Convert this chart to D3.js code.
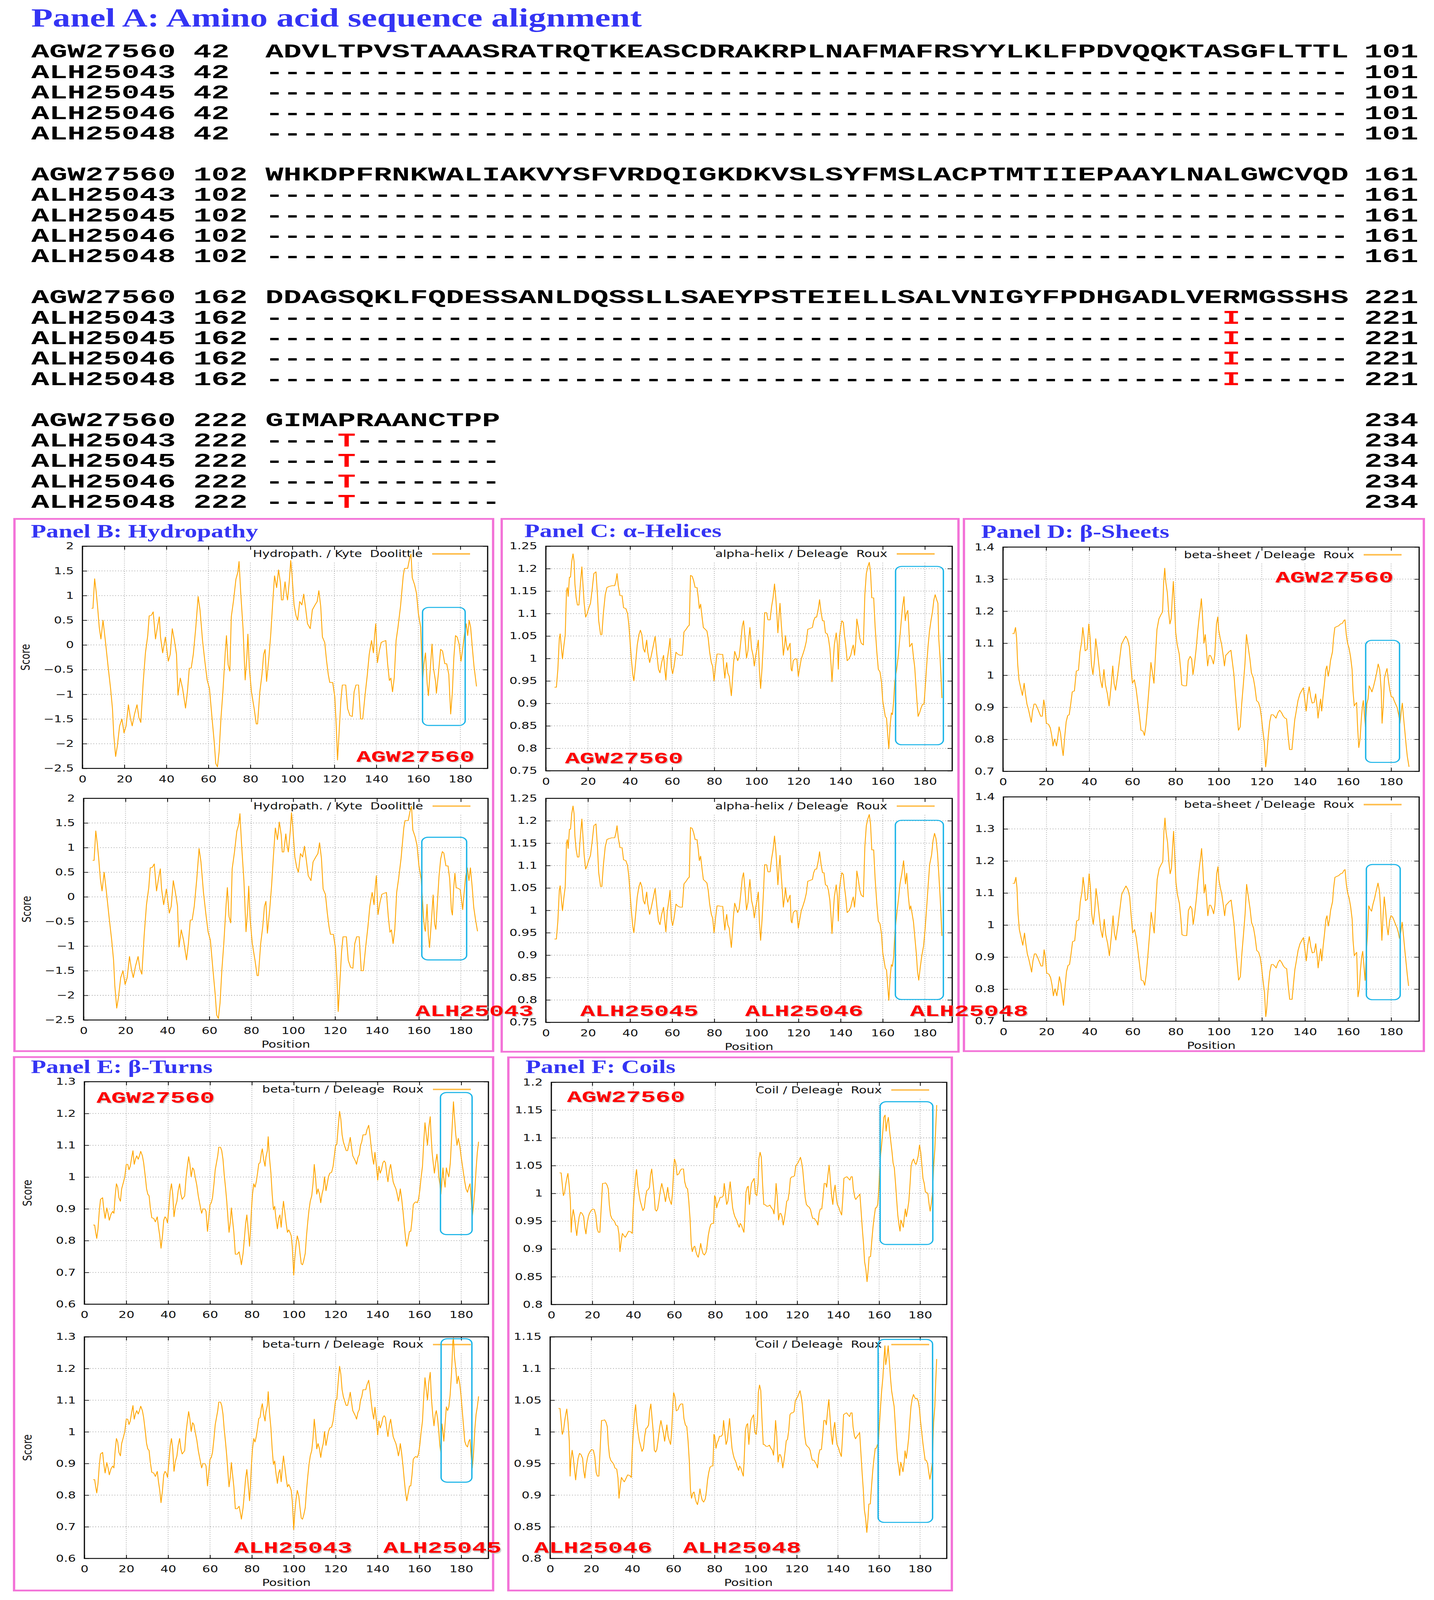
<!DOCTYPE html>
<html><head><meta charset="utf-8">
<script src="https://cdn.jsdelivr.net/npm/d3@7"></script>
<style>html,body{margin:0;padding:0;background:#fff;overflow:hidden}svg{display:block;width:100vw;height:100vh}</style>
</head><body>
<svg id="fig" viewBox="0 0 3670 5393" preserveAspectRatio="none"></svg>
<script>
// ---------------- DATA ----------------
const seqIds = ["AGW27560","ALH25043","ALH25045","ALH25046","ALH25048"];
const blockStarts = [42,102,162,222];
const blockEnds = [101,161,221,234];
const refSeq = [
 "ADVLTPVSTAAASRATRQTKEASCDRAKRPLNAFMAFRSYYLKLFPDVQQKTASGFLTTL",
 "WHKDPFRNKWALIAKVYSFVRDQIGKDKVSLSYFMSLACPTMTIIEPAAYLNALGWCVQD",
 "DDAGSQKLFQDESSANLDQSSLLSAEYPSTEIELLSALVNIGYFPDHGADLVERMGSSHS",
 "GIMAPRAANCTPP"];
const variantSeq = [
 "------------------------------------------------------------",
 "------------------------------------------------------------",
 "-----------------------------------------------------I------",
 "----T--------"];
const panelTitles = ["Panel B: Hydropathy","Panel C: \u03b1-Helices","Panel D: \u03b2-Sheets","Panel E: \u03b2-Turns","Panel F: Coils"];
const legendTexts = ["Hydropath. / Kyte  Doolittle","alpha-helix / Deleage  Roux","beta-sheet / Deleage  Roux","beta-turn / Deleage  Roux","Coil / Deleage  Roux"];
const xTicks = [0,20,40,60,80,100,120,140,160,180];
const hydroTicks = [-2.5,-2,-1.5,-1,-0.5,0,0.5,1,1.5,2];
const helixTicks = [0.75,0.8,0.85,0.9,0.95,1,1.05,1.1,1.15,1.2,1.25];
const sheetTicks = [0.7,0.8,0.9,1,1.1,1.2,1.3,1.4];
const turnTicks = [0.6,0.7,0.8,0.9,1,1.1,1.2,1.3];
const coilTicksTop = [0.8,0.85,0.9,0.95,1,1.05,1.1,1.15,1.2];
const coilTicksBottom = [0.8,0.85,0.9,0.95,1,1.05,1.1,1.15];

const hydroCommon = [[4.3,0.74],[5,0.74],[5.8,1.34],[6.5,1.09],[7.2,0.78],[8,0.36],[8.8,0.12],[9.8,0.5],[10.9,0.09],[12.2,-0.43],[13.4,-0.88],[14.3,-1.29],[14.9,-1.81],[15.8,-2.26],[16.6,-2.05],[17.7,-1.64],[18.8,-1.5],[19.8,-1.78],[20.8,-1.64],[21.9,-1.21],[22.8,-1.47],[23.7,-1.64],[24.8,-1.4],[26,-1.21],[26.9,-1.47],[27.8,-1.57],[28.9,-0.78],[30,-0.16],[31.1,0.19],[31.8,0.59],[32.8,0.6],[33.7,0.67],[34.8,0.12],[35.7,0.36],[36.6,0.57],[37.2,0.16],[38.2,-0.16],[39.5,0.16],[40.2,-0.09],[40.9,-0.33],[41.8,-0.19],[42.8,0.33],[43.8,0.09],[44.8,-0.19],[45.5,-1.02],[46.6,-0.67],[47.7,-0.88],[49.1,-1.28],[50,-0.95],[50.9,-0.47],[51.8,-0.47],[52.8,-0.19],[54,0.36],[55.1,0.98],[56,0.71],[57.2,0.09],[58.3,-0.33],[59.4,-0.71],[60.5,-0.88],[61.7,-1.47],[62.8,-1.98],[63.5,-2.4],[64.3,-2.47],[65.1,-2.16],[66,-1.47],[66.9,-0.95],[68,-0.16],[68.6,0.19],[69.4,-0.4],[70.2,-0.53],[70.9,0.57],[72,0.91],[73.1,1.33],[74,1.47],[74.6,1.69],[75.4,1.05],[76.5,0.33],[77.5,-0.71],[78.3,-0.26],[78.8,0.22],[79.5,-0.47],[80.5,-0.95],[81.8,-1.29],[82.8,-1.6],[83.4,-1.6],[84.5,-0.95],[85.5,-0.6],[86.3,-0.19],[87,-0.09],[87.7,-0.74],[88.8,-0.26],[89.7,0.22],[90.6,0.84],[91.5,1.4],[92.5,1.16],[93.4,1.52],[94.3,1.26],[94.8,0.91],[95.5,0.91],[96.5,1.28],[97.1,1.05],[97.7,0.91],[98.6,1.33],[99.2,1.71],[99.8,1.43],[100.8,0.81],[101.7,0.6],[102.5,0.5],[103.5,0.88],[104.5,0.81],[105.4,1.03],[106.3,0.74],[107.2,0.43],[108.5,0.33],[109.5,0.71],[110.8,0.81],[111.8,0.88],[112.6,1.1],[113.5,0.78],[114.3,0.16],[115.4,0.05],[116.3,-0.33],[117.1,-0.6],[117.8,-0.76],[119.2,-0.76],[120.2,-1.05],[120.9,-1.64],[121.5,-2.33],[122.2,-1.81],[123.1,-1.12],[123.8,-0.81],[125.4,-0.81],[126.3,-1.29],[127.4,-1.43],[128.5,-1.45],[129.4,-0.95],[130.3,-0.81],[131.5,-0.81],[132.5,-1.5],[133.5,-1.5],[134.6,-1.02],[135.7,-0.6],[136.6,-0.19],[137.7,0.09],[138.6,-0.16],[139.2,0.22],[139.7,0.43],[140.5,-0.36],[141.4,-0.12],[142.3,0.05],[143.2,0.07],[144.5,0.09],[145.4,-0.4],[146.2,-0.72],[146.9,-0.67],[147.7,-0.95],[148.5,-0.67],[149.4,0.09],[150.3,0.36],[151.5,0.78],[152.8,1.4],[153.4,1.55],[154.9,1.55],[155.8,1.74],[156.5,1.84],[157.1,1.36],[158.2,1.22],[159.1,1.05],[160,0.64],[161.1,0.36]];
const hydroTopTail = [[162,-0.74],[162.6,-0.4],[163.4,-0.16],[164.2,-0.78],[164.8,-1.03],[165.5,-0.6],[166.5,0.02],[167.2,-0.47],[168.2,-0.74],[168.6,-0.98],[169.5,-0.6],[170.6,-0.09],[171.5,-0.12],[172.6,-0.38],[173.5,-0.38],[174.5,-0.6],[175.4,-1.4],[176.2,-0.95],[176.9,-0.26],[177.7,0.19],[178.5,0.16],[179.4,0.02],[180.3,-0.33],[181.2,-0.05],[182,0.22],[182.8,0.43],[183.5,0.19],[184.2,0.5],[184.9,0.36],[185.7,-0.05],[186.5,-0.43],[187.7,-0.84]];
const hydroBottomTail = [[161.4,0.15],[162.2,-0.41],[162.7,-0.63],[163.1,-0.7],[163.9,-0.15],[164.5,-0.77],[165.1,-1.03],[166.1,-0.41],[166.8,0.04],[167.5,-0.55],[168.1,-0.66],[168.7,-0.22],[169.6,0.41],[170.4,0.77],[171.2,0.92],[171.9,0.89],[172.9,0.63],[173.9,0.63],[174.7,0.37],[175.5,-0.26],[176,-0.37],[176.6,0.18],[177.2,0.48],[177.8,0.18],[178.4,0.18],[179.7,0.15],[180.5,-0.11],[180.9,-0.26],[181.5,0.04],[182.3,0.41],[183.1,0.59],[183.9,0.33],[184.6,0.59],[185.4,0.22],[186.2,-0.22],[187.1,-0.48],[188,-0.7]];

const helixCommon = [[4.1,0.936],[5,0.936],[5.7,0.976],[6.4,1.045],[6.8,1.055],[7.4,1.022],[7.9,0.999],[8.5,1.026],[9.2,1.053],[9.8,1.15],[10.2,1.158],[10.6,1.138],[11.2,1.181],[11.7,1.181],[12.3,1.216],[12.9,1.233],[13.4,1.216],[13.8,1.166],[14.4,1.135],[15,1.119],[15.7,1.119],[16.4,1.166],[17.1,1.204],[17.6,1.166],[18.2,1.123],[18.9,1.092],[19.6,1.1],[20.3,1.111],[21.2,1.123],[22,1.154],[22.8,1.189],[23.8,1.193],[24.5,1.142],[25.1,1.084],[26,1.053],[26.6,1.053],[27.3,1.1],[28.2,1.142],[29,1.158],[29.9,1.16],[31.3,1.162],[32.7,1.162],[33.3,1.173],[33.8,1.189],[34.4,1.162],[35.2,1.14],[36.2,1.14],[36.9,1.113],[38,1.111],[38.8,1.1],[39.4,1.076],[40,1.038],[40.6,0.999],[41.3,0.964],[41.8,0.95],[42.5,0.983],[43.4,1.03],[44.2,1.053],[44.9,1.063],[45.6,1.053],[46.3,1.022],[47,1.014],[47.9,1.041],[48.4,1.014],[49.3,0.991],[50.1,1.007],[51.1,1.03],[51.9,1.049],[52.7,1.01],[53.5,0.976],[54.2,0.968],[55,0.991],[55.9,1.007],[56.4,0.98],[57,0.952],[57.7,0.999],[58.4,1.022],[59,1.045],[59.6,0.98],[60.2,0.966],[60.9,0.983],[61.8,1.014],[62.8,1.009],[63.9,1.007],[64.8,1.007],[65.6,1.059],[66.6,1.065],[67.6,1.072],[68.1,1.074],[68.7,1.185],[69.5,1.183],[70.2,1.173],[70.9,1.158],[71.8,1.158],[72.4,1.135],[72.9,1.111],[73.5,1.121],[74.2,1.092],[74.8,1.069],[75.7,1.065],[76.5,1.061],[77.1,1.045],[77.8,1.014],[78.6,0.991],[79.2,0.983],[79.9,0.95],[80.6,0.983],[81.3,1.01],[82.2,1.01],[83,1.009],[84,1.009],[84.6,0.976],[85,0.956],[85.4,0.976],[85.9,0.991],[86.4,0.968],[87.1,0.96],[87.6,0.937],[88.1,0.917],[88.5,0.944],[89.1,0.987],[89.7,1.016],[90.3,1.007],[91.1,0.995],[91.8,1.003],[92.6,1.038],[93.3,1.072],[93.9,1.084],[94.6,1.045],[95.3,1.001],[96,1.018],[96.5,1.049],[96.9,1.069],[97.7,1.022],[98.4,1.007],[99,0.983],[99.7,1.007],[100.3,1.022],[100.9,1.041],[101.4,0.976],[102,0.933],[102.7,0.98],[103.4,1.045],[103.9,1.102],[104.8,1.102],[105.5,1.086],[106.5,1.086],[107.2,1.115],[107.9,1.135],[108.6,1.166],[109.2,1.135],[109.7,1.1],[110.2,1.057],[110.7,1.092],[111.2,1.123],[111.7,1.084],[112.3,1.045],[112.8,1.007],[113.4,1.03],[113.8,1.051],[114.3,1.03],[114.9,1.018],[115.5,1.028],[116,1.034],[116.5,0.976],[116.9,0.972],[117.5,0.995],[118.3,0.999],[119.2,0.999],[119.9,0.96],[120.6,0.98],[121.3,0.999],[122.1,1.01],[122.9,1.022],[123.7,1.038],[124.4,1.065],[125.5,1.067],[126.6,1.069],[127.2,1.084],[127.9,1.092],[128.6,1.092],[129.4,1.111],[130,1.131],[130.7,1.103],[131.4,1.084],[132.1,1.084],[132.8,1.057],[133.6,1.055],[134.2,1.045],[134.9,1.022],[135.5,0.983],[135.9,0.948],[136.5,0.995],[137,1.03],[137.9,1.057],[138.5,1.03],[138.9,0.976],[139.4,1.045],[140,1.069],[140.6,1.084],[141.3,1.08],[141.8,1.053],[142.4,1.03],[143.1,0.995],[143.9,0.999],[144.8,1.007],[145.5,1.022],[146,1.03],[146.6,1.007],[147.2,1.038],[147.7,1.088],[148.4,1.069],[149.1,1.045],[149.8,1.034],[150.8,1.03],[151.5,1.142],[152.2,1.189],[152.9,1.204],[153.6,1.214],[154.2,1.193],[154.8,1.135],[155.7,1.135],[156.4,1.069],[157.2,1.014],[157.9,0.976],[158.7,0.97],[159.4,0.948],[160,0.906],[160.7,0.886],[161.2,0.871],[161.8,0.867],[162.4,0.828],[162.9,0.799],[163.5,0.851],[164.1,0.879],[164.6,0.875]];
const helixTopTail = [[165.2,0.906],[165.7,0.948],[166.6,0.976],[167.4,1.007],[168.1,1.045],[168.8,1.084],[169.4,1.115],[170.1,1.138],[170.7,1.084],[171.2,1.1],[171.9,1.107],[172.3,1.076],[172.8,1.026],[173.3,1.03],[173.9,1.034],[174.5,1.007],[175.2,0.98],[175.7,0.944],[176.3,0.902],[176.8,0.871],[177.5,0.879],[178.2,0.89],[178.9,0.898],[179.6,0.898],[180.2,0.937],[180.8,0.98],[181.5,1.026],[182.2,1.061],[182.9,1.084],[183.6,1.103],[184.3,1.131],[184.9,1.142],[185.6,1.131],[186.2,1.123],[186.6,1.045],[187.2,1.003],[187.6,0.968],[188.1,0.912]];
const helixBottomTail = [[165.2,0.897],[165.8,0.953],[166.7,0.994],[167.5,1.026],[168.2,1.059],[169.1,1.083],[169.9,1.111],[170.8,1.059],[171.4,1.083],[172.1,1.034],[172.8,1.002],[173.3,1.01],[173.9,0.994],[174.6,0.974],[175.3,0.937],[176,0.901],[176.5,0.864],[177.1,0.844],[177.8,0.872],[178.5,0.897],[179.4,0.921],[180.1,0.957],[180.8,1.002],[181.5,1.051],[182.3,1.103],[183.2,1.124],[183.9,1.156],[184.6,1.172],[185.3,1.16],[186,1.128],[186.6,1.083],[187.2,1.034],[187.6,0.998],[188.1,0.943]];

const sheetCommon = [[4.3,1.13],[5.1,1.13],[5.8,1.149],[6.3,1.116],[6.8,1.035],[7.4,0.986],[8.1,0.964],[9,0.937],[9.8,0.975],[10.4,0.942],[11.1,0.91],[11.8,0.893],[12.5,0.872],[13.1,0.853],[13.7,0.888],[14.4,0.91],[15.1,0.91],[15.9,0.899],[16.8,0.883],[17.5,0.872],[18.2,0.872],[18.9,0.923],[19.5,0.899],[20.1,0.85],[21.1,0.847],[21.9,0.836],[22.6,0.812],[23.2,0.779],[23.9,0.801],[24.8,0.779],[25.5,0.812],[26,0.839],[26.7,0.817],[27.5,0.768],[27.9,0.749],[28.6,0.807],[29.3,0.855],[30,0.874],[30.7,0.877],[31.4,0.91],[32.1,0.948],[33.1,0.951],[34,1.013],[35,1.016],[35.7,1.073],[36.5,1.105],[37,1.149],[37.6,1.116],[38.1,1.076],[39,1.081],[39.8,1.16],[40.4,1.116],[41,1.035],[41.7,1.002],[42.4,1.046],[43,1.114],[43.8,1.073],[44.5,1.029],[45.2,0.986],[46,0.961],[46.8,1.018],[47.5,0.97],[48.4,0.942],[49.2,0.904],[50.1,0.964],[50.9,1.029],[51.5,0.975],[52.2,0.953],[53.1,0.997],[54.1,1.051],[54.9,1.095],[56,1.111],[56.9,1.122],[57.8,1.111],[58.6,1.089],[59.3,1.029],[60,0.975],[60.9,0.986],[61.7,0.959],[62.4,0.921],[63.2,0.877],[64,0.828],[64.9,0.826],[65.6,0.812],[66.3,0.845],[67,0.899],[67.9,0.975],[68.6,1.04],[69.3,1.008],[70,0.975],[70.7,1.062],[71.4,1.143],[72.3,1.176],[73.1,1.187],[74,1.198],[74.5,1.29],[75,1.334],[75.5,1.29],[76.2,1.258],[76.8,1.198],[77.4,1.16],[78,1.176],[78.5,1.241],[79,1.293],[79.4,1.236],[80.1,1.133],[80.8,1.095],[81.7,1.067],[82.4,1.018],[82.9,0.97],[83.9,0.967],[85.1,0.967],[85.9,1.046],[86.8,1.059],[87.5,1.051],[88.1,1.002],[88.8,1.035],[89.6,1.084],[90.3,1.138],[91,1.182],[91.6,1.214],[92,1.239],[92.6,1.176],[93.2,1.1],[93.8,1.127],[94.3,1.084],[94.9,1.029],[95.6,1.062],[96.2,1.062],[96.9,1.051],[97.6,1.035],[98.2,1.062],[99,1.16],[99.6,1.182],[100,1.143],[100.7,1.116],[101.4,1.095],[102.1,1.062],[102.7,1.029],[103.3,1.062],[104,1.067],[104.8,1.073],[105.7,1.078],[106.4,1.04],[107.1,1.002],[107.8,0.937],[108.5,0.883],[109.2,0.828],[110,0.839],[110.7,0.91],[111.5,0.975],[112.2,1.035],[112.9,1.127],[113.8,1.084],[114.5,1.051],[115.2,1.008],[116.1,0.991],[116.8,0.964],[117.6,0.921],[118.5,0.915],[119.2,0.899],[119.8,0.872],[120.5,0.828],[121.2,0.79],[121.8,0.714],[122.2,0.736],[122.9,0.801],[123.7,0.855],[124.4,0.877],[125.2,0.877],[125.9,0.872],[126.6,0.866],[127.5,0.883],[128.3,0.891],[129.2,0.883],[130,0.872],[130.8,0.866],[131.5,0.864],[132.2,0.812],[132.9,0.768],[134,0.768],[134.6,0.812],[135.3,0.861],[136,0.888],[136.8,0.921],[137.7,0.942],[138.6,0.953],[139.3,0.961],[140,0.921],[140.6,0.888],[141.3,0.937],[142,0.964],[142.7,0.932],[143.4,0.913],[144.3,0.915],[145,0.942],[145.7,0.899],[146.1,0.866],[146.7,0.899],[147.3,0.926],[147.8,0.888],[148.4,0.932],[149.1,0.975],[149.7,1.018],[150.2,1.029],[150.8,0.997],[151.4,1.018],[151.9,1.046],[152.8,1.073],[153.3,1.116],[153.9,1.149],[154.8,1.152],[155.6,1.154],[156.5,1.16],[157.4,1.162],[158.1,1.171],[158.6,1.173],[159.2,1.127],[159.8,1.1],[160.5,1.084],[161.2,1.057],[161.9,1.018],[162.3,0.953],[162.9,0.904],[163.4,0.91],[164,0.915]];
const sheetTopTail = [[164.4,0.845],[165,0.774],[165.6,0.801],[166.2,0.866],[166.7,0.904],[167.1,0.921],[167.6,0.877],[168.1,0.839],[168.7,0.91],[169.3,0.926],[169.8,0.967],[170.4,0.959],[171.1,0.948],[171.8,0.964],[172.6,0.986],[173.3,1.008],[174,1.035],[174.7,1.018],[175.4,0.953],[175.8,0.85],[176.4,0.91],[176.9,0.991],[177.5,1.008],[178.1,1.021],[178.7,0.986],[179.4,0.953],[180.1,0.932],[180.8,0.932],[181.4,0.921],[182.1,0.91],[182.8,0.899],[183.5,0.877],[184.1,0.85],[184.7,0.888],[185.2,0.913],[185.8,0.866],[186.4,0.823],[187,0.779],[187.5,0.747],[188.3,0.714]];
const sheetBottomTail = [[164.6,0.776],[165.2,0.799],[165.7,0.856],[166.3,0.901],[166.8,0.918],[167.3,0.878],[167.9,0.827],[168.5,0.912],[169,0.969],[169.6,1.06],[170.3,1.049],[170.9,1.043],[171.6,1.066],[172.3,1.083],[173,1.105],[173.9,1.131],[174.6,1.105],[175.1,1.054],[175.7,0.952],[176.3,1.037],[176.8,1.088],[177.4,1.049],[178,0.998],[178.6,0.969],[179.3,1.015],[179.9,1.029],[180.6,1.026],[181.3,1.015],[182,1.003],[182.7,0.992],[183.4,0.975],[183.9,0.958],[184.5,0.98],[185.1,1.009],[185.7,0.969],[186.4,0.918],[187,0.878],[187.5,0.844],[188.1,0.81]];

const turnCommon = [[4.2,0.849],[4.9,0.849],[5.4,0.826],[5.9,0.807],[6.5,0.837],[7.1,0.892],[7.7,0.93],[8.7,0.935],[9.3,0.897],[9.9,0.87],[10.7,0.903],[11.3,0.886],[11.9,0.864],[12.7,0.883],[13.5,0.892],[14.1,0.886],[14.7,0.941],[15.3,0.979],[15.9,0.968],[16.5,0.935],[17.2,0.924],[17.8,0.963],[18.7,0.985],[19.3,1.001],[20,1.04],[20.7,1.04],[21.3,1.023],[21.9,1.034],[22.6,1.062],[23.2,1.083],[23.8,1.04],[24.4,1.056],[25,1.067],[25.7,1.056],[26.3,1.067],[26.9,1.081],[27.7,1.067],[28.3,1.045],[29.1,1.001],[29.7,0.963],[30.3,0.946],[30.9,0.941],[31.5,0.903],[32.2,0.872],[33.1,0.87],[33.9,0.859],[34.8,0.875],[35.4,0.842],[36,0.815],[36.6,0.776],[37.3,0.815],[37.9,0.864],[38.5,0.875],[39.1,0.87],[39.7,0.856],[40.4,0.908],[41,0.957],[41.6,0.979],[42.2,0.946],[42.8,0.875],[43.5,0.908],[44.2,0.924],[44.8,0.957],[45.5,0.979],[46.1,0.946],[46.7,0.93],[47.3,0.935],[47.9,0.941],[48.6,1.001],[49.2,1.034],[49.8,1.064],[50.4,1.04],[51,1.001],[51.7,1.029],[52.3,1.023],[52.9,1.001],[53.7,0.974],[54.4,0.941],[55.2,0.913],[56,0.886],[56.7,0.9],[57.5,0.9],[58.1,0.892],[58.8,0.829],[59.4,0.87],[60,0.913],[60.6,0.919],[61.2,0.935],[61.9,0.979],[62.5,1.023],[63.1,1.045],[63.7,1.067],[64.2,1.094],[65,1.094],[65.6,1.083],[66.2,1.056],[66.8,1.007],[67.4,0.968],[68,0.924],[68.7,0.859],[69.1,0.826],[69.7,0.859],[70.2,0.903],[70.7,0.87],[71.4,0.826],[72.1,0.757],[73,0.757],[73.9,0.765],[74.5,0.744],[75,0.724],[75.8,0.76],[76.4,0.804],[77,0.853],[77.6,0.881],[78.2,0.837],[78.9,0.782],[79.3,0.826],[79.8,0.897],[80.3,0.946],[80.9,0.979],[81.5,0.968],[82.1,0.985],[82.7,1.012],[83.3,1.042],[83.9,1.045],[84.6,1.078],[85,1.089],[85.6,1.056],[86.3,1.034],[86.7,1.062],[87.4,1.083],[87.8,1.127],[88.4,1.062],[89.1,1.012],[89.7,0.946],[90.3,0.897],[90.9,0.908],[91.5,0.87],[92.2,0.837],[92.8,0.87],[93.4,0.881],[94,0.842],[94.6,0.892],[95.1,0.924],[95.7,0.892],[96.4,0.853],[97,0.826],[97.6,0.834],[98.2,0.826],[98.8,0.815],[99.3,0.782],[99.7,0.733],[100,0.691],[100.5,0.744],[101.1,0.787],[101.7,0.815],[102.4,0.798],[103,0.76],[103.6,0.727],[104.2,0.724],[104.8,0.738],[105.5,0.76],[106.1,0.815],[106.7,0.859],[107.3,0.897],[107.9,0.924],[108.6,0.941],[109.2,0.979],[109.8,1.04],[110.4,1.001],[111,0.946],[111.6,0.963],[112.3,0.946],[112.9,0.919],[113.5,0.946],[114.1,0.963],[114.7,1.001],[115.4,0.957],[116,0.979],[116.6,1.001],[117.2,1.012],[118.1,1.015],[118.8,1.034],[119.4,1.067],[120,1.1],[120.6,1.103],[121.2,1.155],[121.9,1.207],[122.5,1.182],[123.1,1.133],[123.7,1.111],[124.5,1.094],[125.1,1.083],[125.7,1.083],[126.3,1.1],[127,1.125],[127.6,1.094],[128.2,1.067],[128.8,1.059],[129.4,1.051],[130,1.04],[130.7,1.062],[131.3,1.07],[131.9,1.1],[132.5,1.111],[133.1,1.133],[133.8,1.133],[134.4,1.133],[135,1.149],[135.8,1.163],[136.4,1.133],[137,1.094],[137.6,1.062],[138.2,1.04],[138.8,1.078],[139.5,1.034],[140.1,0.99],[140.7,1.034],[141.3,1.012],[141.9,1.023],[142.6,1.045],[143.2,1.051],[143.8,1.045],[144.4,1.012],[145,0.985],[145.7,1.023],[146.3,1.04],[146.9,1.012],[147.5,0.985],[148.1,0.974],[148.8,0.963],[149.4,0.946],[150,0.924],[150.5,0.941],[150.9,0.963],[151.5,0.935],[152.2,0.892],[152.8,0.848],[153.4,0.809],[154,0.782],[154.6,0.804],[155.3,0.829],[155.9,0.829],[156.5,0.864],[157.1,0.913],[157.7,0.919],[158.3,0.922],[159,0.919],[159.6,0.93],[160.2,0.957],[160.8,0.996],[161.5,1.034],[162.1,1.111],[162.7,1.171],[163.3,1.133],[163.9,1.1],[164.5,1.155]];
const turnTopTail = [[165.2,1.19],[165.6,1.133],[166.1,1.078],[166.7,1.04],[167.2,1.012],[167.8,1.045],[168.4,1.072],[168.9,1.04],[169.3,1.001],[169.8,0.979],[170.3,0.946],[170.8,0.99],[171.3,1.029],[171.7,0.996],[172.3,0.968],[172.9,1.029],[173.5,1.012],[174.1,1.001],[174.8,1.045],[175.4,1.122],[176,1.199],[176.3,1.237],[176.8,1.188],[177.4,1.133],[178,1.1],[178.6,1.122],[179.3,1.1],[179.9,1.067],[180.5,1.04],[181.1,1.012],[181.7,0.985],[182.3,0.963],[183,0.952],[183.6,0.968],[184.2,0.979],[184.8,0.93],[185.3,0.875],[185.9,0.913],[186.5,0.957],[187.1,1.023],[187.7,1.078],[188.3,1.111]];
const turnBottomTail = [[165.2,1.188],[165.8,1.103],[166.4,1.055],[167,1.019],[167.6,1.055],[168.1,1.067],[168.7,1.043],[169.3,1.001],[169.8,0.958],[170.3,0.934],[170.8,1.025],[171.2,1.007],[171.7,0.97],[172.3,1.025],[172.9,1.079],[173.5,1.067],[174.1,1.079],[174.7,1.115],[175.4,1.188],[176,1.285],[176.3,1.297],[176.8,1.236],[177.4,1.2],[178,1.152],[178.6,1.176],[179.3,1.152],[179.9,1.115],[180.5,1.067],[181.1,1.019],[181.7,0.97],[182.3,0.958],[183,0.952],[183.6,0.97],[184.2,0.976],[184.8,0.922],[185.3,0.886],[185.9,0.934],[186.5,1.007],[187.1,1.055],[187.7,1.079],[188.3,1.112]];

const coilCommon = [[4,1.037],[4.8,1.037],[5.3,1.018],[5.9,0.996],[6.5,1.002],[7.1,1.018],[7.7,1.03],[8.1,1.036],[8.7,1.015],[9.3,0.986],[9.7,0.93],[10.1,0.955],[10.7,0.971],[11.3,0.958],[11.9,0.939],[12.4,0.924],[13,0.943],[13.6,0.958],[14.3,0.966],[15,0.964],[15.8,0.958],[16.3,0.939],[16.9,0.927],[17.5,0.946],[18.1,0.958],[18.6,0.964],[19.4,0.969],[20.2,0.972],[21,0.971],[21.7,0.961],[22.4,0.936],[23,0.93],[23.7,0.93],[24.3,0.971],[25,1.018],[25.7,1.018],[26.5,1.019],[27.2,1.015],[27.8,1.008],[28.3,0.98],[28.9,0.961],[29.5,0.955],[30.2,0.952],[30.9,0.949],[31.5,0.943],[32.4,0.941],[33,0.927],[33.5,0.895],[34.1,0.914],[34.7,0.928],[35.4,0.924],[36.1,0.921],[37,0.927],[37.7,0.932],[38.7,0.931],[39.5,0.928],[39.9,0.968],[40.5,1.002],[41.1,1.03],[41.6,1.043],[42.2,1.015],[42.8,0.999],[43.4,0.986],[44.1,0.977],[44.7,0.969],[45.4,0.974],[46,0.993],[46.6,1.005],[47.3,1.007],[47.9,1.011],[48.4,1.033],[49,1.044],[49.6,1.021],[50.2,0.999],[50.7,0.971],[51.3,0.968],[51.9,0.972],[52.5,0.986],[53.2,1.005],[53.9,1.018],[54.5,1.008],[55.1,0.999],[55.7,0.985],[56.2,0.996],[56.8,1.011],[57.4,0.993],[58,0.986],[58.6,0.98],[59.1,0.999],[59.7,1.043],[60.1,1.062],[60.7,1.055],[61.4,1.033],[62.2,1.035],[62.9,1.041],[63.6,1.044],[64.5,1.044],[65.1,1.021],[65.8,1.011],[66.5,1.008],[67.1,0.986],[67.7,0.955],[68.3,0.908],[68.8,0.895],[69.4,0.903],[70,0.905],[70.6,0.895],[71.1,0.889],[71.7,0.885],[72.3,0.895],[72.9,0.91],[73.4,0.9],[74,0.892],[74.7,0.889],[75.5,0.894],[76,0.905],[76.6,0.924],[77.2,0.936],[77.8,0.944],[78.5,0.946],[79.2,0.946],[79.7,0.996],[80.1,0.993],[80.7,0.974],[81.3,0.983],[81.8,0.986],[82.4,0.993],[83.3,0.993],[83.9,0.996],[84.4,1.018],[85,0.999],[85.6,0.98],[86.2,0.986],[86.7,1.002],[87.3,1.021],[87.9,0.996],[88.5,0.974],[89.1,0.964],[89.6,0.958],[90.4,0.952],[90.9,0.946],[91.7,0.939],[92.2,0.946],[92.8,0.943],[93.4,0.936],[94,0.93],[94.4,0.955],[95,1.002],[95.6,1.011],[96.1,1.013],[96.7,0.98],[97.2,1.002],[97.7,1.018],[98.5,1.024],[99,1.027],[99.6,0.999],[100.3,0.996],[100.9,1.018],[101.3,1.062],[101.9,1.074],[102.5,1.065],[103.1,1.018],[103.7,0.98],[104.2,0.98],[105.1,0.977],[105.8,0.977],[106.7,0.979],[107.4,0.974],[108.1,0.971],[108.7,0.963],[109.2,0.986],[109.7,1.018],[110.3,0.993],[110.9,0.952],[111.5,0.964],[112,0.964],[112.6,0.958],[113.2,0.943],[113.8,0.955],[114.4,0.971],[114.9,0.986],[115.5,0.988],[116.1,1.002],[116.7,1.027],[117.4,1.03],[118.1,1.03],[118.7,1.032],[119.3,1.049],[119.8,1.052],[120.4,1.055],[121,1.06],[121.6,1.065],[122.2,1.055],[122.7,1.043],[123.3,1.018],[123.9,0.993],[124.5,0.98],[125.2,0.977],[125.9,0.975],[126.5,0.971],[127.1,0.961],[127.6,0.955],[128.4,0.955],[128.9,0.952],[129.5,0.949],[130.1,0.943],[130.7,0.964],[131.3,0.972],[132,0.972],[132.6,0.993],[133.2,1.018],[133.9,1.018],[134.4,1.011],[135,1.033],[135.6,1.051],[136.2,1.024],[136.8,0.996],[137.4,0.98],[137.9,1.002],[138.5,1.015],[139.1,0.993],[139.6,0.98],[140.4,0.974],[140.9,0.968],[141.7,0.961],[142.3,0.993],[142.8,1.027],[143.6,1.029],[144.3,1.03],[145.2,1.026],[145.7,1.024],[146.3,1.03],[146.9,1.03],[147.4,1.008],[148.1,0.993],[148.6,0.989],[149.3,0.993],[150.1,0.996],[150.6,0.999],[151.2,0.968],[151.8,0.936],[152.4,0.908],[152.9,0.877],[153.5,0.864],[154.1,0.841],[154.7,0.864],[155.1,0.886],[155.8,0.886],[156.4,0.914],[157,0.939],[157.6,0.958],[158.2,0.974],[158.7,0.974],[159.3,0.98]];
const coilTopTail = [[159.8,1.005],[160.2,1.036],[160.6,1.065],[161.2,1.087],[161.8,1.112],[162.3,1.137],[162.9,1.141],[163.4,1.112],[163.9,1.127],[164.5,1.137],[165.1,1.112],[165.7,1.093],[166.3,1.074],[166.8,1.055],[167.4,1.046],[168,1.018],[168.6,0.986],[169.1,0.961],[169.7,0.943],[170.2,0.932],[170.6,0.952],[171.2,0.946],[171.8,0.939],[172.3,0.958],[172.8,0.972],[173.3,0.958],[173.9,0.971],[174.5,0.986],[175.1,1.018],[175.6,1.049],[176.2,1.058],[176.8,1.062],[177.4,1.055],[178,1.052],[178.5,1.058],[179.1,1.068],[179.7,1.087],[180.3,1.074],[180.9,1.049],[181.4,1.027],[182,1.018],[182.6,1.002],[183.2,1.002],[183.8,0.999],[184.3,0.983],[184.9,0.968],[185.5,0.983],[186.1,1.002],[186.6,1.049],[187.2,1.08],[187.8,1.134],[188.1,1.159]];
const coilBottomTail = [[159.6,0.979],[160.2,1.009],[160.8,1.04],[161.3,1.064],[161.9,1.085],[162.5,1.118],[162.9,1.136],[163.3,1.106],[163.9,1.118],[164.5,1.136],[165.1,1.109],[165.7,1.082],[166.2,1.064],[166.8,1.052],[167.4,1.04],[168,1.009],[168.5,0.979],[169.1,0.955],[169.7,0.943],[170.1,0.931],[170.6,0.952],[171.1,0.946],[171.7,0.937],[172.3,0.952],[172.7,0.97],[173.3,0.958],[173.9,0.973],[174.5,0.991],[175,1.015],[175.6,1.04],[176.2,1.052],[176.8,1.059],[177.3,1.055],[177.9,1.052],[178.5,1.053],[179.1,1.049],[179.7,1.037],[180.2,1.018],[180.8,1],[181.4,0.982],[182,0.967],[182.5,0.955],[183.1,0.955],[183.7,0.949],[184.2,0.937],[184.8,0.925],[185.4,0.937],[186,0.952],[186.6,1.015],[187.2,1.04],[187.6,1.076],[188.1,1.115]];

// highlighted windows [x0, x1, yLow, yHigh] in data units
const hlHydro = [[162,182.3,-1.63,0.76],[161.4,182.8,-1.28,1.21]];
const hlHelix = [[166.1,188.8,0.808,1.205],[166,188.8,0.801,1.201]];
const hlSheet = [[168.2,183.9,0.728,1.109],[168.5,184.2,0.767,1.189]];
const hlTurn  = [[170.1,185.2,0.819,1.266],[170.4,185.1,0.841,1.294]];
const hlCoil  = [[160.5,186.2,0.908,1.165],[159.6,186.1,0.857,1.146]];

// ---------------- LAYOUT / STYLE ----------------
const W = 3670, H = 5393;
const BLUE = "#3434f4", RED = "#ff0000", PINK = "#f374d8", ORANGE = "#ffa500", CYAN = "#1ab4e8";
const serif = "'Liberation Serif','Times New Roman',serif";
const mono = "'Liberation Mono','Courier New',monospace";
const sans = "'DejaVu Sans',Verdana,sans-serif";
const svg = d3.select("#fig");
svg.append("rect").attr("width", W).attr("height", H).attr("fill", "#fff");

// ---------- Panel A ----------
svg.append("text").attr("x", 80).attr("y", 90)
  .attr("font-family", serif).attr("font-weight", "bold").attr("font-size", 90)
  .attr("fill", BLUE).text("Panel A: Amino acid sequence alignment");

const CW = 46.1, X0 = 80, ROW0 = 194, ROWH = 69, MONO_SIZE = 77, SY = 0.84;
function monoText(x, y, size, fill) {
  return svg.append("text")
    .attr("transform", `translate(${x},${y}) scale(1,${SY})`)
    .attr("font-family", mono).attr("font-weight", "bold")
    .attr("font-size", size).attr("fill", fill);
}
blockStarts.forEach((start, b) => {
  seqIds.forEach((id, r) => {
    const y = ROW0 + (b * 6 + r) * ROWH;
    monoText(X0, y, MONO_SIZE, "#000").text(id);
    monoText(X0 + 9 * CW, y, MONO_SIZE, "#000").text(start);
    monoText(X0 + 74 * CW, y, MONO_SIZE, "#000").text(blockEnds[b]);
    const row = r === 0 ? refSeq[b] : variantSeq[b];
    const t = monoText(X0 + 13 * CW, y, MONO_SIZE, "#000");
    const runs = [];
    for (const ch of row) {
      const isMut = r > 0 && ch !== "-";
      if (runs.length && runs[runs.length - 1].mut === isMut) runs[runs.length - 1].s += ch;
      else runs.push({ s: ch, mut: isMut });
    }
    runs.forEach(run => t.append("tspan").attr("fill", run.mut ? RED : "#000").text(run.s));
  });
});

// ---------- Panel boxes ----------
const boxes = [
  { b: [37, 1749, 1262, 3543], tx: 79, ty: 1812 },
  { b: [1284, 1749, 2453, 3545], tx: 1342, ty: 1810 },
  { b: [2467, 1749, 3644, 3543], tx: 2511, ty: 1813 },
  { b: [36, 3563, 1262, 5361], tx: 79, ty: 3617 },
  { b: [1301, 3564, 2436, 5361], tx: 1345, ty: 3617 }
];
boxes.forEach((bx, i) => {
  const [x0, y0, x1, y1] = bx.b;
  svg.append("rect").attr("x", x0).attr("y", y0).attr("width", x1 - x0).attr("height", y1 - y0)
    .attr("fill", "none").attr("stroke", PINK).attr("stroke-width", 6);
  svg.append("text").attr("x", bx.tx).attr("y", bx.ty)
    .attr("font-family", serif).attr("font-weight", "bold").attr("font-size", 64)
    .attr("fill", BLUE).text(panelTitles[i]);
});

// ---------- Plots ----------
const fmt = v => String(+v.toFixed(2)).replace("-", "\u2212");
const plots = [
  { px: [211, 1248], py: [1841, 2590], dom: [-2.5, 2], ticks: hydroTicks, leg: legendTexts[0], data: hydroCommon.concat(hydroTopTail), hl: hlHydro[0], score: true },
  { px: [214, 1249], py: [2691, 3438], dom: [-2.5, 2], ticks: hydroTicks, leg: legendTexts[0], data: hydroCommon.concat(hydroBottomTail), hl: hlHydro[1], score: true, pos: true },
  { px: [1397, 2437], py: [1841, 2598], dom: [0.75, 1.25], ticks: helixTicks, leg: legendTexts[1], data: helixCommon.concat(helixTopTail), hl: hlHelix[0] },
  { px: [1397, 2437], py: [2691, 3446], dom: [0.75, 1.25], ticks: helixTicks, leg: legendTexts[1], data: helixCommon.concat(helixBottomTail), hl: hlHelix[1], pos: true },
  { px: [2567, 3632], py: [1844, 2600], dom: [0.7, 1.4], ticks: sheetTicks, leg: legendTexts[2], data: sheetCommon.concat(sheetTopTail), hl: hlSheet[0] },
  { px: [2568, 3632], py: [2686, 3442], dom: [0.7, 1.4], ticks: sheetTicks, leg: legendTexts[2], data: sheetCommon.concat(sheetBottomTail), hl: hlSheet[1], pos: true },
  { px: [216, 1250], py: [3646, 4396], dom: [0.6, 1.3], ticks: turnTicks, leg: legendTexts[3], data: turnCommon.concat(turnTopTail), hl: hlTurn[0], score: true },
  { px: [216, 1250], py: [4506, 5253], dom: [0.6, 1.3], ticks: turnTicks, leg: legendTexts[3], data: turnCommon.concat(turnBottomTail), hl: hlTurn[1], score: true, pos: true },
  { px: [1411, 2423], py: [3648, 4397], dom: [0.8, 1.2], ticks: coilTicksTop, leg: legendTexts[4], data: coilCommon.concat(coilTopTail), hl: hlCoil[0] },
  { px: [1408, 2423], py: [4506, 5253], dom: [0.8, 1.15], ticks: coilTicksBottom, leg: legendTexts[4], data: coilCommon.concat(coilBottomTail), hl: hlCoil[1], pos: true }
];

plots.forEach(p => {
  const [x0, x1] = p.px, [y0, y1] = p.py;
  const xs = d3.scaleLinear().domain([0, 193]).range([x0, x1]);
  const ys = d3.scaleLinear().domain(p.dom).range([y1, y0]);
  const g = svg.append("g");

  g.append("g").selectAll("line").data(xTicks.filter(v => v > 0)).join("line")
    .attr("x1", d => xs(d)).attr("x2", d => xs(d)).attr("y1", y0).attr("y2", y1)
    .attr("stroke", "#9a9a9a").attr("stroke-width", 2).attr("stroke-dasharray", "2,5");
  g.append("g").selectAll("line").data(p.ticks.filter(v => v > p.dom[0] + 1e-9 && v < p.dom[1] - 1e-9)).join("line")
    .attr("x1", x0).attr("x2", x1).attr("y1", d => ys(d)).attr("y2", d => ys(d))
    .attr("stroke", "#9a9a9a").attr("stroke-width", 2).attr("stroke-dasharray", "2,5");

  const legY = y0 + 26;
  const lineX1 = x1 - 45, lineX0 = lineX1 - 97;
  const legBg = g.append("rect").attr("fill", "#fff");
  const legT = g.append("text").attr("x", lineX0 - 24).attr("y", legY + 11)
    .attr("text-anchor", "end").attr("font-family", sans).attr("font-size", 32)
    .attr("fill", "#111").style("white-space", "pre").text(p.leg);
  const bb = legT.node().getBBox();
  legBg.attr("x", bb.x - 8).attr("y", y0 + 3).attr("width", lineX1 + 8 - (bb.x - 8)).attr("height", 50);
  g.append("line").attr("x1", lineX0).attr("x2", lineX1).attr("y1", legY).attr("y2", legY)
    .attr("stroke", "#ffbe4d").attr("stroke-width", 5);

  g.append("path").datum(p.data)
    .attr("d", d3.line().x(d => xs(d[0])).y(d => ys(d[1])))
    .attr("fill", "none").attr("stroke", ORANGE).attr("stroke-width", 2.2).attr("stroke-linejoin", "round");

  const styleAxis = sel => {
    sel.selectAll("text").attr("font-family", sans).attr("font-size", 32).attr("fill", "#111");
    sel.selectAll("line").attr("stroke", "#000").attr("stroke-width", 2);
    sel.select(".domain").remove();
  };
  g.append("g").attr("transform", `translate(0,${y1})`)
    .call(d3.axisBottom(xs).tickValues(xTicks).tickSize(-12).tickPadding(24).tickFormat(d => d))
    .call(styleAxis);
  g.append("g").attr("transform", `translate(0,${y0})`)
    .call(d3.axisTop(xs).tickValues(xTicks).tickSize(-12).tickFormat(""))
    .call(styleAxis);
  g.append("g").attr("transform", `translate(${x0},0)`)
    .call(d3.axisLeft(ys).tickValues(p.ticks).tickSize(-12).tickPadding(22).tickFormat(fmt))
    .call(styleAxis);
  g.append("g").attr("transform", `translate(${x1},0)`)
    .call(d3.axisRight(ys).tickValues(p.ticks).tickSize(-12).tickFormat(""))
    .call(styleAxis);

  g.append("rect").attr("x", x0).attr("y", y0).attr("width", x1 - x0).attr("height", y1 - y0)
    .attr("fill", "none").attr("stroke", "#000").attr("stroke-width", 3);

  const [hx0, hx1, hyl, hyh] = p.hl;
  g.append("rect").attr("x", xs(hx0)).attr("y", ys(hyh))
    .attr("width", xs(hx1) - xs(hx0)).attr("height", ys(hyl) - ys(hyh))
    .attr("rx", 16).attr("ry", 16)
    .attr("fill", "none").attr("stroke", CYAN).attr("stroke-width", 3.5);

  if (p.score) {
    g.append("text").attr("transform", `translate(${x0 - 135},${(y0 + y1) / 2}) rotate(-90)`)
      .attr("text-anchor", "middle").attr("font-family", sans).attr("font-size", 32)
      .attr("fill", "#111").text("Score");
  }
  if (p.pos) {
    g.append("text").attr("x", (x0 + x1) / 2).attr("y", y1 + 93)
      .attr("text-anchor", "middle").attr("font-family", sans).attr("font-size", 32)
      .attr("fill", "#111").text("Position");
  }
});

// ---------- Red sample labels ----------
const labelSpots = [
  [seqIds[0], 912, 2567], [seqIds[0], 1446, 2573], [seqIds[0], 3264, 1963],
  [seqIds[0], 247, 3717], [seqIds[0], 1451, 3714],
  [seqIds[1], 1063, 3424], [seqIds[2], 1485, 3424], [seqIds[3], 1907, 3424], [seqIds[4], 2329, 3424],
  [seqIds[1], 599, 5234], [seqIds[2], 981, 5234], [seqIds[3], 1367, 5234], [seqIds[4], 1748, 5234]
];
labelSpots.forEach(([txt, x, y]) => {
  svg.append("text").attr("transform", `translate(${x + 3},${y + 3}) scale(1,0.86)`)
    .attr("font-family", mono).attr("font-weight", "bold").attr("font-size", 63)
    .attr("fill", "#b8b8b8").attr("opacity", 0.7).text(txt);
  svg.append("text").attr("transform", `translate(${x},${y}) scale(1,0.86)`)
    .attr("font-family", mono).attr("font-weight", "bold").attr("font-size", 63)
    .attr("fill", RED).text(txt);
});
</script>
</body></html>
